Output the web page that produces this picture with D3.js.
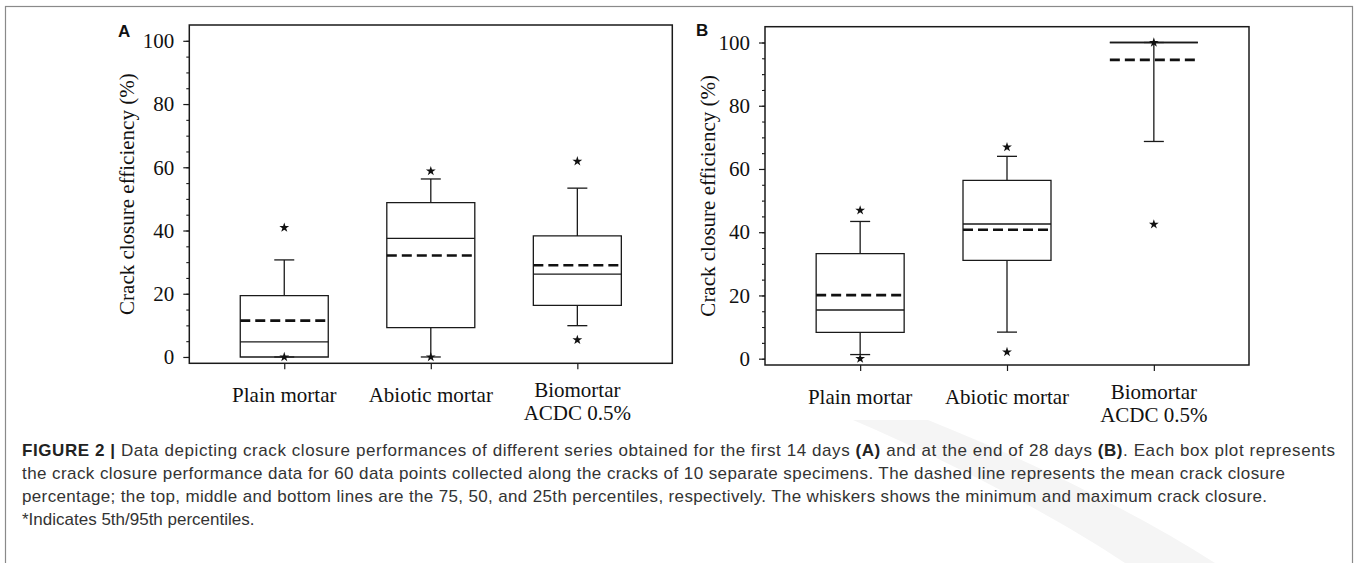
<!DOCTYPE html>
<html>
<head>
<meta charset="utf-8">
<script src="https://cdn.jsdelivr.net/npm/d3@7"></script>
<style>
  html, body { margin: 0; padding: 0; background: #fff; }
  svg text { white-space: pre; }
</style>
</head>
<body>
<div id="chart"></div>
<script>
// Categories and tick labels
const categories = ["Plain mortar", "Abiotic mortar", "Biomortar ACDC 0.5%"];
const categoryLines = [["Plain mortar"], ["Abiotic mortar"], ["Biomortar", "ACDC 0.5%"]];
const yTicks = [0, 20, 40, 60, 80, 100];
const yMinorTicks = [0, 5, 10, 15, 20, 25, 30, 35, 40, 45, 50, 55, 60, 65, 70, 75, 80, 85, 90, 95, 100];

// Panel A: first 14 days
const p5A   = [0, 0, 5.4];
const minA  = [0, 0, 9.9];
const q1A   = [0, 9.3, 16.3];
const medA  = [4.8, 37.5, 26.2];
const q3A   = [19.4, 48.8, 38.3];
const maxA  = [30.7, 56.3, 53.4];
const p95A  = [40.9, 58.8, 61.9];
const meanA = [11.5, 32.1, 29.0];

// Panel B: end of 28 days
const p5B   = [0, 2.1, 42.5];
const minB  = [1.3, 8.4, 68.7];
const q1B   = [8.3, 31.1, 100];
const medB  = [15.4, 42.6, 100];
const q3B   = [33.2, 56.4, 100];
const maxB  = [43.4, 64.0, 100];
const p95B  = [46.9, 66.9, 100];
const meanB = [20.1, 40.8, 94.5];

const W = 1358, H = 563;
const serif = "'Liberation Serif', 'Times New Roman', serif";
const sans = "'Liberation Sans', Arial, sans-serif";
const ink = "#1a1a1a";

const svg = d3.select("#chart").append("svg")
    .attr("width", W)
    .attr("height", H);

// faint watermark
svg.append("path")
    .attr("d", "M853,420 L928,420 C1040,465 1140,515 1215,563 L1125,563 C1060,520 965,468 853,420 Z")
    .attr("fill", "#f5f5f5");

// outer figure border
svg.append("rect")
    .attr("x", 5.5).attr("y", 6.5)
    .attr("width", 1347).attr("height", 620)
    .attr("fill", "none")
    .attr("stroke", "#8a8a8a")
    .attr("stroke-width", 1.2);

function drawPanel(cfg) {
  const g = svg.append("g");
  const {x0, x1, y0, y1} = cfg;

  const x = d3.scalePoint()
      .domain(categories)
      .range([x0, x1])
      .padding(0.648);

  const y = d3.scaleLinear()
      .domain([-2, 105])
      .range([y1, y0]);

  const boxW = 88, capW = 20;

  // minor y ticks
  g.append("g")
      .attr("transform", `translate(${x0},0)`)
      .call(d3.axisLeft(y).tickValues(yMinorTicks).tickSize(3).tickFormat(""))
      .call(a => a.select(".domain").remove())
      .selectAll("line").attr("stroke", ink).attr("stroke-width", 1.1);

  // major y ticks
  const yAxis = g.append("g")
      .attr("transform", `translate(${x0},0)`)
      .call(d3.axisLeft(y).tickValues(yTicks).tickSize(6).tickPadding(9));
  yAxis.select(".domain").remove();
  yAxis.selectAll("line").attr("stroke", ink).attr("stroke-width", 1.2);
  yAxis.selectAll("text")
      .attr("font-family", serif)
      .attr("font-size", 21)
      .attr("fill", "#111");

  // x ticks
  const xAxis = g.append("g")
      .attr("transform", `translate(0,${y1})`)
      .call(d3.axisBottom(x).tickSize(6).tickFormat(""));
  xAxis.select(".domain").remove();
  xAxis.selectAll("line").attr("stroke", ink).attr("stroke-width", 1.2);

  // x labels
  categories.forEach((c, i) => {
    const lines = categoryLines[i];
    const t = g.append("text")
        .attr("text-anchor", "middle")
        .attr("font-family", serif)
        .attr("font-size", 21)
        .attr("fill", "#111");
    if (lines.length === 1) {
      t.append("tspan").attr("x", x(c)).attr("y", y1 + 38.5).text(lines[0]);
    } else {
      lines.forEach((l, k) => {
        t.append("tspan").attr("x", x(c)).attr("y", y1 + 33.5 + k * 23.5).text(l);
      });
    }
  });

  // frame
  g.append("rect")
      .attr("x", x0).attr("y", y0)
      .attr("width", x1 - x0).attr("height", y1 - y0)
      .attr("fill", "none")
      .attr("stroke", ink)
      .attr("stroke-width", 1.5);

  // boxes
  categories.forEach((c, i) => {
    const cx = x(c);
    const bx0 = cx - boxW / 2, bx1 = cx + boxW / 2;
    const line = (xa, ya, xb, yb) => g.append("line")
        .attr("x1", xa).attr("y1", ya).attr("x2", xb).attr("y2", yb)
        .attr("stroke", ink).attr("stroke-width", 1.3);

    // whiskers
    line(cx, y(cfg.q3[i]), cx, y(cfg.max[i]));
    line(cx - capW / 2, y(cfg.max[i]), cx + capW / 2, y(cfg.max[i]));
    line(cx, y(cfg.q1[i]), cx, y(cfg.min[i]));
    line(cx - capW / 2, y(cfg.min[i]), cx + capW / 2, y(cfg.min[i]));

    // box (path so a collapsed box still shows)
    g.append("path")
        .attr("d", `M${bx0},${y(cfg.q3[i])}H${bx1}V${y(cfg.q1[i])}H${bx0}Z`)
        .attr("fill", "none")
        .attr("stroke", ink)
        .attr("stroke-width", 1.3);

    // median
    line(bx0, y(cfg.med[i]), bx1, y(cfg.med[i]));

    // mean (dashed)
    g.append("line")
        .attr("x1", bx0).attr("x2", bx1 + 1)
        .attr("y1", y(cfg.mean[i])).attr("y2", y(cfg.mean[i]))
        .attr("stroke", "#111")
        .attr("stroke-width", 2.6)
        .attr("stroke-dasharray", "10,5");

    // 5th / 95th percentiles
    [cfg.p5[i], cfg.p95[i]].forEach(v => {
      g.append("path")
          .attr("d", d3.symbol().type(d3.symbolStar).size(30)())
          .attr("transform", `translate(${cx},${y(v)})`)
          .attr("fill", "#111");
    });
  });

  // y title
  g.append("text")
      .attr("transform", `translate(${cfg.titleX},${(y0 + y1) / 2}) rotate(-90)`)
      .attr("text-anchor", "middle")
      .attr("font-family", serif)
      .attr("font-size", 21)
      .attr("fill", "#111")
      .text("Crack closure efficiency (%)");

  // panel letter
  g.append("text")
      .attr("x", cfg.letterX).attr("y", cfg.letterY)
      .attr("font-family", sans)
      .attr("font-weight", "bold")
      .attr("font-size", 17)
      .attr("fill", "#111")
      .text(cfg.letter);
}

drawPanel({
  letter: "A", letterX: 118, letterY: 37, titleX: 134,
  x0: 189.3, x1: 672.3, y0: 25, y1: 363.3,
  p5: p5A, min: minA, q1: q1A, med: medA, q3: q3A, max: maxA, p95: p95A, mean: meanA
});

drawPanel({
  letter: "B", letterX: 696, letterY: 36, titleX: 715,
  x0: 765, x1: 1249, y0: 26.7, y1: 365,
  p5: p5B, min: minB, q1: q1B, med: medB, q3: q3B, max: maxB, p95: p95B, mean: meanB
});

// caption
const captionLines = [
  [["FIGURE 2 |", true], [" Data depicting crack closure performances of different series obtained for the first 14 days ", false],
   ["(A)", true], [" and at the end of 28 days ", false], ["(B)", true], [". Each box plot represents", false]],
  [["the crack closure performance data for 60 data points collected along the cracks of 10 separate specimens. The dashed line represents the mean crack closure", false]],
  [["percentage; the top, middle and bottom lines are the 75, 50, and 25th percentiles, respectively. The whiskers shows the minimum and maximum crack closure.", false]],
  [["*Indicates 5th/95th percentiles.", false]]
];
const captionEnds = [1335, 1285, 1267, null];

const cap = svg.append("g")
    .attr("font-family", sans)
    .attr("font-size", 17)
    .attr("fill", "#333");

captionLines.forEach((parts, i) => {
  const t = cap.append("text")
      .attr("x", 22)
      .attr("y", 456 + i * 23);
  if (captionEnds[i]) {
    t.attr("textLength", captionEnds[i] - 22).attr("lengthAdjust", "spacing");
  }
  parts.forEach(([s, b]) => {
    t.append("tspan")
        .attr("font-weight", b ? "bold" : "normal")
        .attr("fill", b ? "#222" : "#333")
        .text(s);
  });
});
</script>
</body>
</html>
